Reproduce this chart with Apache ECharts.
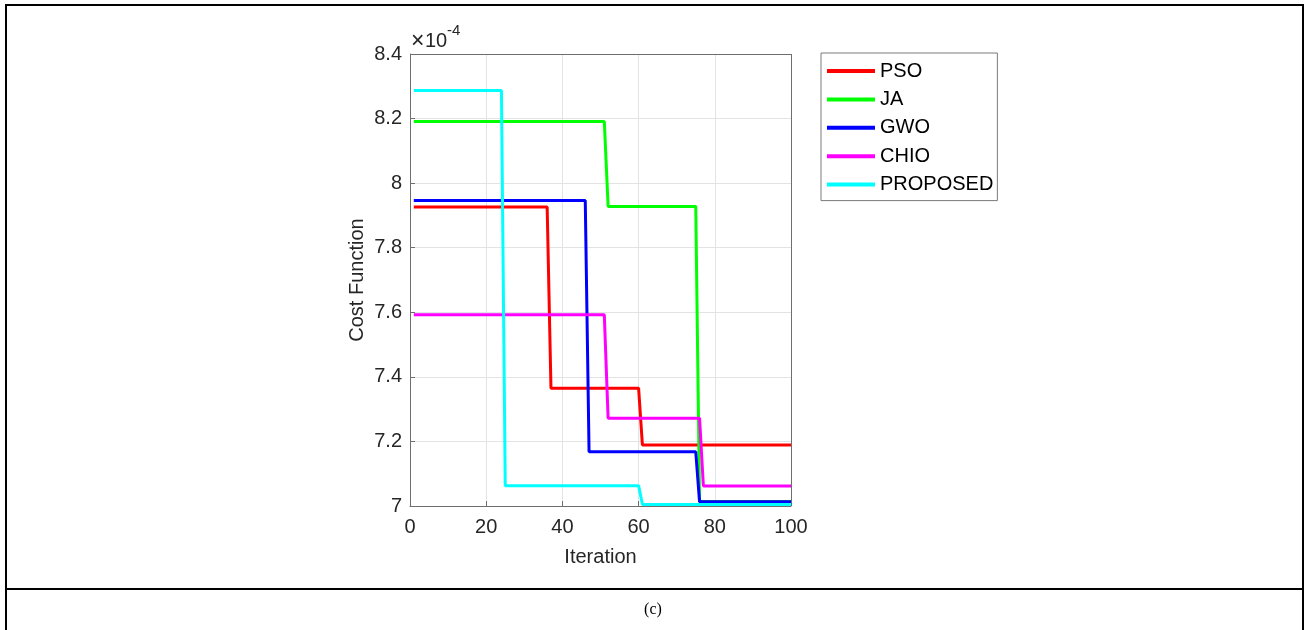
<!DOCTYPE html>
<html>
<head>
<meta charset="utf-8">
<script src="https://cdn.jsdelivr.net/npm/echarts@6/dist/echarts.min.js"></script>
<style>
  html, body { margin: 0; padding: 0; background: #fff; }
  #chart { width: 1306px; height: 630px; }
</style>
</head>
<body>
<div id="chart"></div>
<script>
// values in units of 1e-4, step breakpoints [iteration, cost]
const psoIter = [1, 36, 37, 60, 61, 100];
const psoCost = [7.926, 7.926, 7.365, 7.365, 7.189, 7.189];
const jaIter = [1, 51, 52, 75, 76, 100];
const jaCost = [8.191, 8.191, 7.928, 7.928, 7.014, 7.014];
const gwoIter = [1, 46, 47, 75, 76, 100];
const gwoCost = [7.946, 7.946, 7.168, 7.168, 7.013, 7.013];
const chioIter = [1, 51, 52, 76, 77, 100];
const chioCost = [7.592, 7.592, 7.272, 7.272, 7.062, 7.062];
const propIter = [1, 24, 25, 60, 61, 100];
const propCost = [8.287, 8.287, 7.063, 7.063, 7.005, 7.005];

const xTicks = [0, 20, 40, 60, 80, 100];
const yTicks = [7, 7.2, 7.4, 7.6, 7.8, 8, 8.2, 8.4];

const pair = (xs, ys) => xs.map((x, i) => [x, ys[i]]);

const chart = echarts.init(document.getElementById('chart'));

const font = 'Liberation Sans, Arial, sans-serif';
const axisCol = '#6e6e6e';

const mkSeries = (name, color, xs, ys) => ({
  name: name,
  type: 'line',
  data: pair(xs, ys),
  showSymbol: false,
  symbol: 'none',
  lineStyle: { color: color, width: 3 },
  itemStyle: { color: color },
  animation: false
});

const option = {
  animation: false,
  grid: { left: 410, top: 54, width: 381, height: 452 },
  xAxis: {
    type: 'value',
    min: 0, max: 100, interval: 20,
    name: 'Iteration',
    nameLocation: 'middle',
    nameGap: 41,
    nameTextStyle: { fontFamily: font, fontSize: 20, color: '#262626' },
    axisLine: { show: true, onZero: false, lineStyle: { color: axisCol } },
    axisTick: { show: true, inside: true, length: 5, lineStyle: { color: axisCol } },
    axisLabel: { fontFamily: font, fontSize: 20, color: '#262626', margin: 11 },
    splitLine: { show: true, lineStyle: { color: '#e3e3e3' } }
  },
  yAxis: {
    type: 'value',
    min: 7, max: 8.4, interval: 0.2,
    name: 'Cost Function',
    nameLocation: 'middle',
    nameGap: 43,
    nameTextStyle: { fontFamily: font, fontSize: 20, color: '#262626' },
    axisLine: { show: true, onZero: false, lineStyle: { color: axisCol } },
    axisTick: { show: true, inside: true, length: 5, lineStyle: { color: axisCol } },
    axisLabel: {
      fontFamily: font, fontSize: 20, color: '#262626', margin: 8,
      formatter: v => String(Math.round(v * 10) / 10)
    },
    splitLine: { show: true, lineStyle: { color: '#e3e3e3' } }
  },
  legend: {
    orient: 'vertical',
    left: 821, top: 53,
    padding: [8, 4, 6, 6],
    itemGap: 8.4,
    itemWidth: 48,
    itemHeight: 4,
    itemTextGap: 5,
    icon: 'rect',
    borderColor: '#7a7a7a',
    borderWidth: 1,
    backgroundColor: '#fff',
    textStyle: { fontFamily: font, fontSize: 20, color: '#000', lineHeight: 20 },
    data: ['PSO', 'JA', 'GWO', 'CHIO', 'PROPOSED']
  },
  series: [
    mkSeries('PSO', '#ff0000', psoIter, psoCost),
    mkSeries('JA', '#00ff00', jaIter, jaCost),
    mkSeries('GWO', '#0000ff', gwoIter, gwoCost),
    mkSeries('CHIO', '#ff00ff', chioIter, chioCost),
    mkSeries('PROPOSED', '#00ffff', propIter, propCost)
  ],
  graphic: [
    // box top and right edges
    { type: 'line', shape: { x1: 410, y1: 54.5, x2: 791, y2: 54.5 }, style: { stroke: axisCol, lineWidth: 1 }, z: 10 },
    { type: 'line', shape: { x1: 791.5, y1: 54, x2: 791.5, y2: 506 }, style: { stroke: axisCol, lineWidth: 1 }, z: 10 },
    // exponent label
    { type: 'text', left: 411, top: 30, style: { text: '\u00d7', font: '23px ' + font, fill: '#262626' } },
    { type: 'text', left: 425, top: 31, style: { text: '10', font: '20px ' + font, fill: '#262626' } },
    { type: 'text', left: 447, top: 23, style: { text: '-4', font: '15px ' + font, fill: '#262626' } },
    // table frame
    { type: 'rect', shape: { x: 6, y: 5, width: 1297, height: 640 }, style: { fill: 'none', stroke: '#000', lineWidth: 2 } },
    { type: 'line', shape: { x1: 6, y1: 589, x2: 1303, y2: 589 }, style: { stroke: '#000', lineWidth: 2 } },
    { type: 'text', left: 'center', top: 602, style: { text: '(c)', font: '16px "Liberation Serif", "Times New Roman", serif', fill: '#000' } }
  ]
};

chart.setOption(option);
</script>
</body>
</html>
